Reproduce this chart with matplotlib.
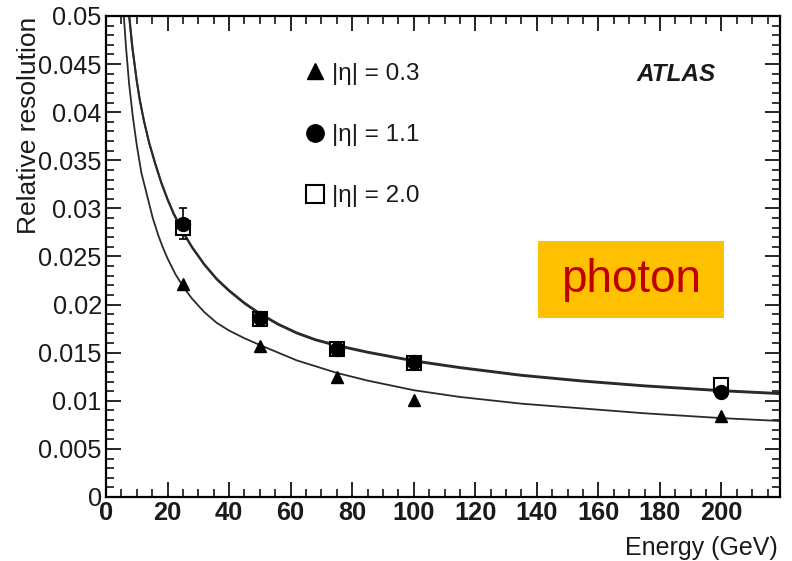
import matplotlib
matplotlib.use("Agg")
import matplotlib.pyplot as plt
from matplotlib.ticker import MultipleLocator, FuncFormatter
from matplotlib.patches import Rectangle

plt.rcParams['font.family'] = ['Liberation Sans', 'DejaVu Sans']

# ---- data ----
energy = [25, 50, 75, 100, 200]
res_eta03 = [0.0221, 0.0157, 0.0125, 0.0101, 0.0084]
res_eta11 = [0.0284, 0.0186, 0.0154, 0.0140, 0.0109]
res_eta20 = [0.0280, 0.0185, 0.0154, 0.0139, 0.0116]
err_eta11 = [0.0016, 0.0005, 0.0004, 0.0004, 0.0004]

# fitted resolution curves
fit_E03 = [5.8, 6.5, 7.5, 8.7, 10, 11.5, 13, 15.2, 17, 18.4, 20, 22.5, 25, 28, 32, 36, 40,
           45, 50, 56, 62, 68, 75, 85, 100, 115, 135, 155, 175, 200, 219]
fit_v03 = [0.0500, 0.0468, 0.0430, 0.0396, 0.0366, 0.0337, 0.0318, 0.0290, 0.0272, 0.0260,
           0.0248, 0.0232, 0.0219, 0.0206, 0.0192, 0.0181, 0.0173, 0.0165, 0.0158, 0.0150,
           0.0142, 0.0136, 0.0129, 0.0121, 0.0111, 0.0104, 0.0097, 0.0092, 0.0087, 0.0082,
           0.0079]
fit_E11 = [7.5, 8.5, 10, 11, 12.3, 14, 16, 18, 20, 22, 25, 28, 32, 36, 40, 45, 50, 56, 62,
           68, 75, 85, 100, 115, 135, 155, 175, 200, 219]
fit_v11 = [0.0500, 0.0468, 0.0432, 0.0412, 0.0391, 0.0368, 0.0346, 0.0326, 0.0309, 0.0294,
           0.0275, 0.0259, 0.0241, 0.0226, 0.0214, 0.0201, 0.0190, 0.0179, 0.0170, 0.0163,
           0.0157, 0.0150, 0.0141, 0.0134, 0.0126, 0.0120, 0.0115, 0.0110, 0.0107]
fit_E20 = [7.6, 8.6, 10, 11, 12.3, 14, 16, 18, 20, 22, 25, 28, 32, 36, 40, 45, 50, 56, 62,
           68, 75, 85, 100, 115, 135, 155, 175, 200, 219]
fit_v20 = [0.0500, 0.0468, 0.0433, 0.0413, 0.0392, 0.0369, 0.0347, 0.0327, 0.0310, 0.0295,
           0.0276, 0.0260, 0.0242, 0.0227, 0.0215, 0.0202, 0.0191, 0.0180, 0.0171, 0.0164,
           0.0158, 0.0151, 0.0142, 0.0135, 0.0127, 0.0121, 0.0116, 0.0111, 0.0108]

labels = ['|η| = 0.3', '|η| = 1.1', '|η| = 2.0']
x_label = 'Energy (GeV)'
y_label = 'Relative resolution'

# ---- figure ----
fig = plt.figure(figsize=(7.92, 5.61), dpi=100)
ax = fig.add_axes([0.1338, 0.1141, 0.851, 0.8574])

ink = '#1a1a1a'
curve_col = '#2a2a2a'
ax.plot(fit_E03, fit_v03, color=curve_col, lw=1.3, zorder=2, solid_joinstyle='round')
ax.plot(fit_E11, fit_v11, color=curve_col, lw=1.4, zorder=2, solid_joinstyle='round')
ax.plot(fit_E20, fit_v20, color=curve_col, lw=1.4, zorder=2, solid_joinstyle='round')

ax.errorbar(energy, res_eta11, yerr=err_eta11, fmt='none', ecolor='black',
            elinewidth=1.2, capsize=3, capthick=1.2, zorder=3)
h20, = ax.plot(energy, res_eta20, ls='none', marker='s', ms=10, mfc='white',
               mec='black', mew=1.5, zorder=4)
h11, = ax.plot(energy, res_eta11, ls='none', marker='o', ms=10, mfc='black',
               mec='black', zorder=5)
h03, = ax.plot(energy, res_eta03, ls='none', marker='^', ms=9, mfc='black',
               mec='black', zorder=5)

ax.set_xlim(0, 219)
ax.set_ylim(0, 0.05)

ax.xaxis.set_major_locator(MultipleLocator(20))
ax.xaxis.set_minor_locator(MultipleLocator(5))
ax.yaxis.set_major_locator(MultipleLocator(0.005))
ax.yaxis.set_minor_locator(MultipleLocator(0.001))
ax.yaxis.set_major_formatter(FuncFormatter(lambda v, p: '%g' % round(v, 4)))

ax.tick_params(which='both', direction='in', top=True, right=True, color='black')
ax.tick_params(which='major', length=11, width=1.2)
ax.tick_params(which='minor', length=5.5, width=1.1)
ax.tick_params(axis='y', labelsize=18.3, labelcolor=ink, pad=3)
ax.tick_params(axis='x', labelsize=18.3, labelcolor=ink, pad=3)
for lab in ax.get_xticklabels():
    lab.set_fontweight('bold')
for s in ax.spines.values():
    s.set_linewidth(1.6)

leg = ax.legend([h03, h11, h20], labels, loc='upper left',
                bbox_to_anchor=(0.295, 0.903), frameon=False, fontsize=17.5,
                handlelength=0.8, handletextpad=0.3, labelspacing=1.62,
                borderpad=0, borderaxespad=0, numpoints=1, markerscale=1.25)
for t in leg.get_texts():
    t.set_color(ink)

ax.text(0.905, 0.879, 'ATLAS', transform=ax.transAxes, ha='right', va='center',
        fontsize=17.5, fontweight='bold', fontstyle='italic', color=ink)

fig.text(0.0366, 0.9697, y_label, rotation=90, ha='center', va='top',
         fontsize=19, color=ink)
fig.text(0.982, 0.023, x_label, ha='right', va='center', fontsize=18, color=ink)

fig.patches.append(Rectangle((0.6793, 0.4332), 0.2348, 0.1373,
                             transform=fig.transFigure, facecolor='#FFC000',
                             edgecolor='none', zorder=10))
fig.text(0.7967, 0.5009, 'photon', ha='center', va='center', fontsize=33,
         color='#C00000', zorder=11)

fig.savefig('out.png', dpi=100)
